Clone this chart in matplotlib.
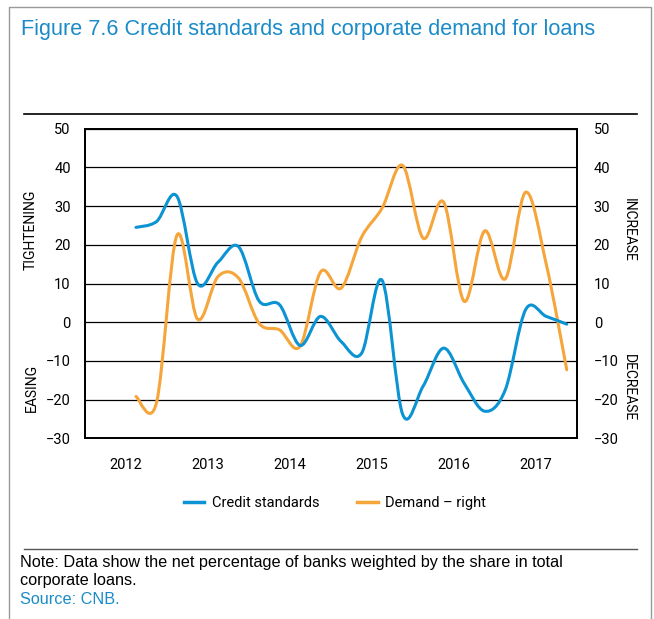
import numpy as np
import matplotlib
matplotlib.use('Agg')
import matplotlib.pyplot as plt
from matplotlib.path import Path
from matplotlib.patches import PathPatch
from matplotlib.lines import Line2D

# Quarterly data, 2012 Q3 - 2017 Q4
quarters = ['2012Q3', '2012Q4',
            '2013Q1', '2013Q2', '2013Q3', '2013Q4',
            '2014Q1', '2014Q2', '2014Q3', '2014Q4',
            '2015Q1', '2015Q2', '2015Q3', '2015Q4',
            '2016Q1', '2016Q2', '2016Q3', '2016Q4',
            '2017Q1', '2017Q2', '2017Q3', '2017Q4']
credit_standards = [24.5, 26.0, 32.5, 10.0, 15.5, 19.5, 5.5, 4.5, -6.0, 1.5,
                    -5.0, -8.0, 10.8, -23.8, -16.5, -6.7, -15.8, -23.0,
                    -17.5, 3.3, 1.5, -0.5]
demand = [-19.2, -20.8, 22.5, 0.8, 11.8, 11.4, -0.3, -2.0, -6.2, 13.0,
          8.8, 22.0, 29.5, 40.5, 21.7, 31.0, 5.4, 23.6, 11.2, 33.6, 15.0, -12.3]
years = [2012, 2013, 2014, 2015, 2016, 2017]

BLUE = '#0b93d3'
ORANGE = '#f6a53b'
TITLE_BLUE = '#1a8bc8'
NARROW = ['Roboto', 'DejaVu Sans']
REGULAR = ['Liberation Sans', 'DejaVu Sans']


def quarter_pos(q):
    return int(q[:4]) + (int(q[-1]) - 0.5) / 4


def smooth_path(xs, ys):
    # Catmull-Rom style smoothing through the data points (like a spreadsheet "smoothed line")
    pts = np.column_stack([xs, ys])
    verts = [pts[0]]
    codes = [Path.MOVETO]
    n = len(pts)
    for i in range(n - 1):
        p0 = pts[max(i - 1, 0)]
        p1 = pts[i]
        p2 = pts[i + 1]
        p3 = pts[min(i + 2, n - 1)]
        c1 = p1 + (p2 - p0) / 6
        c2 = p2 - (p3 - p1) / 6
        verts += [c1, c2, p2]
        codes += [Path.CURVE4] * 3
    return Path(verts, codes)


def fmt(v):
    return '\u2212' + str(-v) if v < 0 else str(v)


x = [quarter_pos(q) for q in quarters]
yt = list(range(-30, 51, 10))

fig = plt.figure(figsize=(6.54, 6.19), dpi=100)
ax = fig.add_axes([0.1295, 0.2919, 0.7528, 0.5002])
ax2 = ax.twinx()

for a in (ax, ax2):
    a.set_xlim(2012, 2018)
    a.set_ylim(-30, 50)
    a.set_yticks(yt)
    a.tick_params(length=0)
    for s in a.spines.values():
        s.set_linewidth(1.3)
        s.set_color('black')

ax.set_zorder(2)
ax.patch.set_visible(False)
ax2.set_zorder(1)

# grid
ax2.set_xticks(range(2013, 2018))
ax2.xaxis.grid(True, color='#808080', linewidth=1.6)
ax2.yaxis.grid(True, color='black', linewidth=0.9)
ax2.set_axisbelow(True)

ax.set_xticks([y + 0.5 for y in years])
ax.set_xticklabels([str(y) for y in years], family=NARROW, fontsize=10.5)
ax.tick_params(axis='x', pad=14)
ax.set_yticklabels([fmt(v) for v in yt], family=NARROW, fontsize=10.5)
ax.tick_params(axis='y', pad=10)
ax2.set_yticklabels([fmt(v) for v in yt], family=NARROW, fontsize=10.5)
ax2.tick_params(axis='y', pad=12)

ax2.add_patch(PathPatch(smooth_path(x, demand), facecolor='none', edgecolor=ORANGE,
                        linewidth=2.2, capstyle='round', zorder=3))
ax.add_patch(PathPatch(smooth_path(x, credit_standards), facecolor='none', edgecolor=BLUE,
                       linewidth=2.2, capstyle='round', zorder=3))

# side labels
side = dict(ha='center', va='center', family=NARROW, fontsize=10)
fig.text(31 / 654, 1 - 230 / 619, 'TIGHTENING', rotation=90, **side)
fig.text(32 / 654, 1 - 388 / 619, 'EASING', rotation=90, **side)
fig.text(629 / 654, 1 - 230 / 619, 'INCREASE', rotation=-90, **side)
fig.text(629 / 654, 1 - 388 / 619, 'DECREASE', rotation=-90, **side)

# legend
handles = [Line2D([], [], color=BLUE, linewidth=2.5),
           Line2D([], [], color=ORANGE, linewidth=2.5)]
fig.legend(handles, ['Credit standards', 'Demand \u2013 right'], loc='center',
           bbox_to_anchor=(0.512, 1 - 503 / 619), ncol=2, frameon=False,
           prop={'family': NARROW, 'size': 10.5}, handlelength=1.4,
           handletextpad=0.5, columnspacing=2.6)

# title and notes
fig.text(21 / 654, 1 - 30 / 619, 'Figure 7.6 Credit standards and corporate demand for loans',
         color=TITLE_BLUE, fontsize=15.6, family=REGULAR, va='center')
fig.add_artist(Line2D([24 / 654, 637 / 654], [1 - 113.5 / 619] * 2, color='black', linewidth=1.2))
fig.add_artist(Line2D([24 / 654, 637 / 654], [1 - 548.5 / 619] * 2, color='#555555', linewidth=1.0))
note = dict(fontsize=11.7, family=REGULAR, va='center')
fig.text(20 / 654, 1 - 563 / 619,
         'Note: Data show the net percentage of banks weighted by the share in total', **note)
fig.text(20 / 654, 1 - 581 / 619, 'corporate loans.', **note)
fig.text(20 / 654, 1 - 600 / 619, 'Source: CNB.', color=TITLE_BLUE, **note)

# outer frame
fig.add_artist(Line2D([9 / 654, 9 / 654, 651 / 654, 651 / 654],
                      [0, 1 - 7 / 619, 1 - 7 / 619, 0], color='#999999', linewidth=1.0))

fig.savefig('out.png', dpi=100)
